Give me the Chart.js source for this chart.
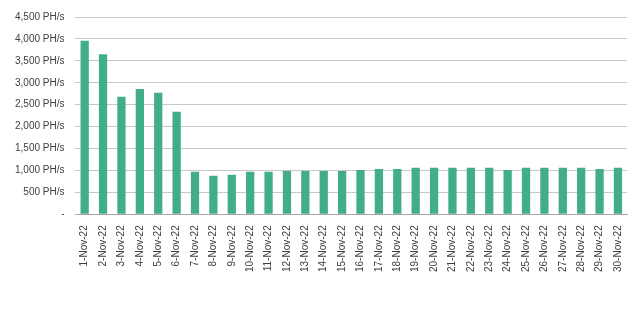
<!DOCTYPE html>
<html>
<head>
<meta charset="utf-8">
<script src="https://cdn.jsdelivr.net/npm/chart.js@4"></script>
<style>
  html, body { margin: 0; padding: 0; background: #fff; }
  #wrap { width: 633px; height: 309px; position: relative; }
</style>
</head>
<body>
<div id="wrap"><canvas id="hashChart"></canvas></div>
<script>
const dias = [];
for (let d = 1; d <= 30; d++) dias.push(d + '-Nov-22');

const hashrate = [3960, 3650, 2680, 2860, 2770, 2340, 970, 880, 900, 970,
                  970, 990, 990, 990, 990, 1010, 1035, 1035, 1060, 1060,
                  1060, 1060, 1060, 1010, 1060, 1060, 1060, 1060, 1035, 1060];

const yMax = 4500;
const yStep = 500;

const ctx = document.getElementById('hashChart').getContext('2d');
new Chart(ctx, {
    type: 'bar',
    data: {
        labels: dias,
        datasets: [{
            data: hashrate,
            backgroundColor: 'rgb(66, 173, 139)',
            barPercentage: 0.45,
            categoryPercentage: 1
        }]
    },
    options: {
        responsive: true,
        maintainAspectRatio: false,
        animation: false,
        layout: { padding: { left: 4, right: 2, top: 7, bottom: 34 } },
        plugins: { legend: { display: false }, tooltip: { enabled: false } },
        scales: {
            x: {
                grid: { display: false },
                border: { color: '#a6a6a6' },
                ticks: {
                    minRotation: 90,
                    maxRotation: 90,
                    autoSkip: false,
                    color: '#404040',
                    font: { family: 'Liberation Sans', size: 10 }
                }
            },
            y: {
                min: 0,
                max: yMax,
                grid: { color: '#c8c8c8', drawTicks: false },
                border: { display: false },
                ticks: {
                    stepSize: yStep,
                    padding: 11,
                    color: '#404040',
                    font: { family: 'Liberation Sans', size: 10 },
                    callback: v => v === 0 ? '-' : v.toLocaleString('en-US') + ' PH/s'
                }
            }
        }
    }
});
</script>
</body>
</html>
